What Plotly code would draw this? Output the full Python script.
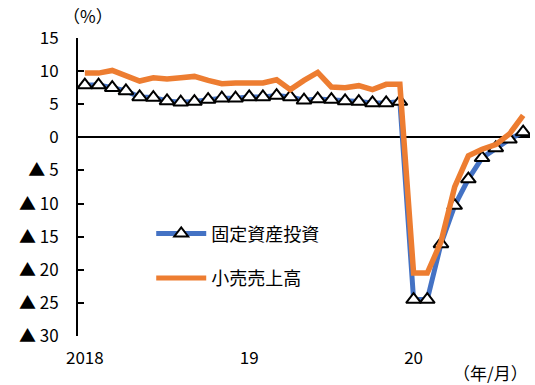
import plotly.graph_objects as go

months = list(range(33))  # Jan 2018 .. Sep 2020
fai = [7.9, 7.9, 7.5, 7.0, 6.1, 6.0, 5.5, 5.3, 5.4, 5.7, 5.9, 5.9,
       6.1, 6.1, 6.3, 6.1, 5.6, 5.8, 5.7, 5.5, 5.4, 5.2, 5.2, 5.4,
       -24.5, -24.5, -16.1, -10.3, -6.3, -3.1, -1.6, -0.3, 0.8]
retail = [9.7, 9.7, 10.1, 9.4, 8.5, 9.0, 8.8, 9.0, 9.2, 8.6, 8.1, 8.2,
          8.2, 8.2, 8.7, 7.2, 8.6, 9.8, 7.6, 7.5, 7.8, 7.2, 8.0, 8.0,
          -20.5, -20.5, -15.8, -7.5, -2.8, -1.8, -1.1, 0.5, 3.3]
x_tickvals = [0, 12, 24]
x_ticktext = ["2018", "19", "20"]
y_tickvals = [15, 10, 5, 0, -5, -10, -15, -20, -25, -30]
y_ticktext = ["15", "10", "5", "0", "▲ 5", "▲ 10", "▲ 15", "▲ 20", "▲ 25", "▲ 30"]

FONT = "Noto Sans CJK JP, sans-serif"

fig = go.Figure()
fig.add_trace(go.Scatter(
    x=months, y=fai, name="固定資産投資", mode="lines+markers",
    line=dict(color="#4472C4", width=5),
    marker=dict(symbol="triangle-up", size=13, color="white",
                line=dict(color="black", width=2)),
    legendgroup="a"))
fig.add_trace(go.Scatter(
    x=months, y=retail, name="小売売上高", mode="lines",
    line=dict(color="#ED7D31", width=5.5),
    legendgroup="b"))

fig.update_layout(
    width=535, height=385,
    margin=dict(l=78, r=5, t=38, b=49),
    paper_bgcolor="white", plot_bgcolor="white",
    font=dict(family=FONT, size=17, color="black"),
    showlegend=True,
    legend=dict(x=0.162, y=0.405, xanchor="left", yanchor="top",
                bgcolor="rgba(0,0,0,0)", font=dict(size=18),
                traceorder="grouped", tracegroupgap=18,
                itemwidth=50, itemsizing="constant"),
    xaxis=dict(range=[-0.5, 32.5], tickvals=x_tickvals, ticktext=x_ticktext,
               showgrid=False, zeroline=False, showline=False, ticks="",
               ticklabelstandoff=10),
    yaxis=dict(range=[-30, 15], tickvals=y_tickvals, ticktext=y_ticktext,
               showgrid=False, zeroline=True, zerolinecolor="black", zerolinewidth=1.5,
               showline=True, linecolor="black", linewidth=2,
               ticks="inside", ticklen=6, tickwidth=2, tickcolor="black",
               ticklabelstandoff=14),
    annotations=[
        dict(text="（%）", xref="paper", yref="paper", x=0.022, y=1.0, yshift=23,
             xanchor="center", yanchor="middle", showarrow=False, font=dict(size=17)),
        dict(text="（年/月）", xref="paper", yref="paper", x=1.0, y=0, yshift=-36,
             xanchor="right", yanchor="middle", showarrow=False, font=dict(size=17)),
    ],
)

fig.write_html("out.html")
